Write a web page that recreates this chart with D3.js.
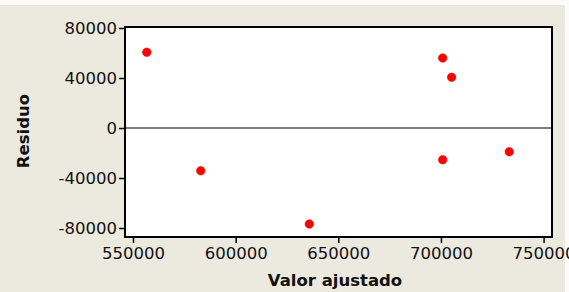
<!DOCTYPE html>
<html><head><meta charset="utf-8">
<script src="https://cdn.jsdelivr.net/npm/d3@7"></script>
<style>
html,body{margin:0;padding:0;background:#fbfbf9;}
svg{display:block;}
</style></head>
<body>
<script>
const fittedValues = [556700, 583000, 635900, 700850, 705200, 700850, 733300];
const residuals    = [60600, -34200, -76800, 56000, 40600, -25400, -19000];
const xTicks = [550000, 600000, 650000, 700000, 750000];
const yTicks = [-80000, -40000, 0, 40000, 80000];
const xTitle = "Valor ajustado";
const yTitle = "Residuo";

const W = 569, H = 292;
const svg = d3.select("body").append("svg").attr("width", W).attr("height", H);

svg.append("rect").attr("x", 0).attr("y", 5).attr("width", 565).attr("height", H - 5).attr("fill", "#ece9df");

const x = d3.scaleLinear().domain([546100, 754100]).range([125, 552]);
const y = d3.scaleLinear().domain([-87200, 80800]).range([237, 27]);

// plot area
svg.append("rect")
  .attr("x", x.range()[0]).attr("y", y.range()[1])
  .attr("width", x.range()[1] - x.range()[0]).attr("height", y.range()[0] - y.range()[1])
  .attr("fill", "#ffffff");

// zero reference line
svg.append("line")
  .attr("x1", x.range()[0]).attr("x2", x.range()[1])
  .attr("y1", y(0)).attr("y2", y(0))
  .attr("stroke", "#555").attr("stroke-width", 1.5);

const font = "'DejaVu Sans', Verdana, sans-serif";

// axes
const xAxis = d3.axisBottom(x).tickValues(xTicks).tickFormat(d3.format("d")).tickSize(6).tickSizeOuter(0);
const yAxis = d3.axisLeft(y).tickValues(yTicks).tickFormat(d3.format("d")).tickSize(6).tickSizeOuter(0);

const gx = svg.append("g").attr("transform", `translate(0,${y.range()[0]})`).call(xAxis);
const gy = svg.append("g").attr("transform", `translate(${x.range()[0]},0)`).call(yAxis);
[gx, gy].forEach(g => {
  g.select(".domain").remove();
  g.selectAll(".tick line").attr("stroke", "#000").attr("stroke-width", 1.5);
  g.selectAll(".tick text").attr("fill", "#111").style("font-family", font).style("font-size", "16.5px");
});
gx.selectAll(".tick text").attr("y", 10);
gy.selectAll(".tick text").attr("x", -8).attr("dy", "0.36em");
// ASCII hyphen-minus like the reference
gy.selectAll(".tick text").text(d => String(d));

// frame
svg.append("rect")
  .attr("x", x.range()[0]).attr("y", y.range()[1])
  .attr("width", x.range()[1] - x.range()[0]).attr("height", y.range()[0] - y.range()[1])
  .attr("fill", "none").attr("stroke", "#000").attr("stroke-width", 2);

// points
const pts = fittedValues.map((v, i) => ({fx: v, r: residuals[i]}));
svg.append("g").selectAll("circle").data(pts).join("circle")
  .attr("cx", d => x(d.fx)).attr("cy", d => y(d.r)).attr("r", 4.3)
  .attr("fill", "#ff0000").attr("stroke", "#e00000").attr("stroke-width", 0.5);

// titles
svg.append("text").attr("x", 335).attr("y", 286).attr("text-anchor", "middle")
  .style("font-family", font).style("font-weight", "bold").style("font-size", "16.5px")
  .attr("fill", "#111").text(xTitle);
svg.append("text").attr("transform", "translate(29,131) rotate(-90)").attr("text-anchor", "middle")
  .style("font-family", font).style("font-weight", "bold").style("font-size", "16.5px")
  .attr("fill", "#111").text(yTitle);
</script>
</body></html>
